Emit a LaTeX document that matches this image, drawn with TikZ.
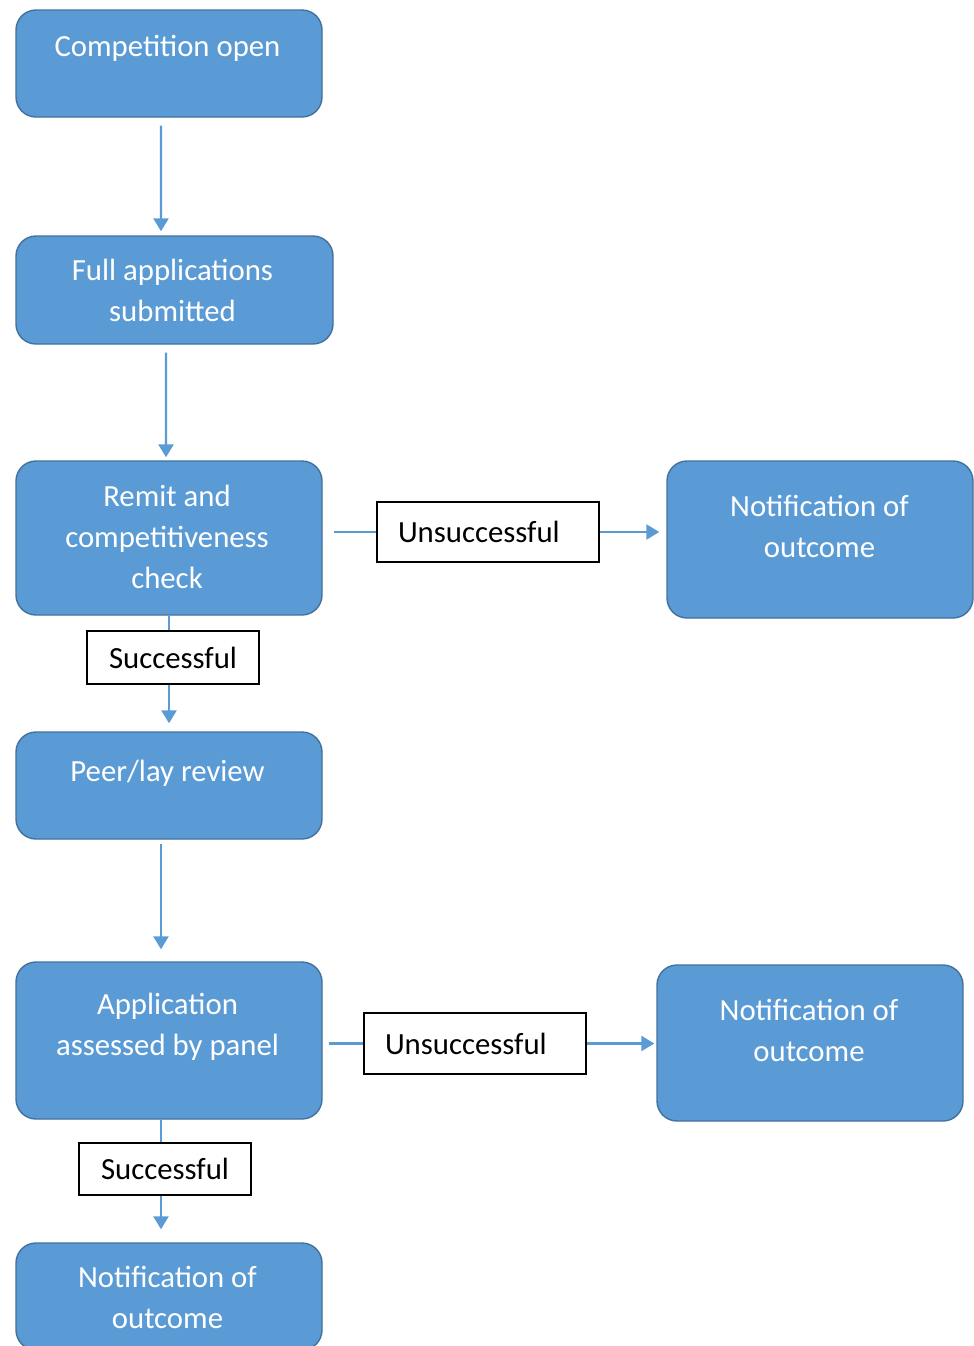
\documentclass[tikz,border=0pt]{standalone}
\usepackage{fontspec}
\setmainfont{Carlito}
\usetikzlibrary{arrows.meta}
\definecolor{stagefill}{HTML}{5B9BD5}
\definecolor{stageline}{HTML}{41719C}

\begin{document}
\begin{tikzpicture}[
    every node/.style={font=\fontsize{17.5}{23.3}\selectfont},
    stage/.style={draw=stageline, fill=stagefill, rounded corners=0.4cm, line width=0.8pt, minimum width=6.12cm},
    stagetext/.style={text=white, align=center, inner sep=0pt},
    note/.style={draw=black, line width=1.1pt, fill=white, minimum width=4.44cm},
    failnote/.style={note, inner xsep=0.42cm, text width=3.6cm, align=left},
    flow/.style={draw=stagefill, line width=1.4pt, -{Triangle[width=0.3cm,length=0.26cm]}},
    link/.style={draw=stagefill, line width=1.4pt}
]
    \clip (0,0) rectangle (19.48,-26.92);

    % main column
    \node[stage, minimum height=2.14cm] (open) at (3.38,-1.27) {};
    \node[stage, minimum height=2.16cm, minimum width=6.34cm] (full) at (3.49,-5.80) {};
    \node[stage, minimum height=3.08cm] (check) at (3.38,-10.76) {};
    \node[stage, minimum height=2.14cm] (review) at (3.38,-15.71) {};
    \node[stage, minimum height=3.14cm] (panel) at (3.38,-20.81) {};
    \node[stage, minimum height=2.14cm] (notice) at (3.38,-25.93) {};

    % outcome boxes on the right
    \node[stage, minimum height=3.14cm] (notify1) at (16.40,-10.79) {};
    \node[stage, minimum height=3.12cm] (notify2) at (16.20,-20.86) {};

    \node[stagetext] (opent) at (3.35,-0.96) {Competition open};
    \node[stagetext] (fullt) at (3.45,-5.81) {Full applications\\submitted};
    \node[stagetext] (checkt) at (3.34,-10.74) {Remit and\\competitiveness\\check};
    \node[stagetext] (reviewt) at (3.35,-15.46) {Peer/lay review};
    \node[stagetext] (panelt) at (3.35,-20.54) {Application\\assessed by panel};
    \node[stagetext] (noticet) at (3.35,-25.94) {Notification of\\outcome};
    \node[stagetext] (notify1t) at (16.39,-10.52) {Notification of\\outcome};
    \node[stagetext] (notify2t) at (16.18,-20.60) {Notification of\\outcome};

    % decision labels
    \node[failnote, minimum height=1.20cm] (fail1) at (9.76,-10.64) {Unsuccessful};
    \node[failnote, minimum height=1.22cm] (fail2) at (9.50,-20.87) {Unsuccessful};
    \node[note, minimum height=1.06cm, minimum width=3.44cm] (pass1) at (3.46,-13.15) {Successful};
    \node[note, minimum height=1.04cm, minimum width=3.44cm] (pass2) at (3.30,-23.38) {Successful};

    \draw[flow] ([shift={(-0.16,-0.16)}]open.south) -- ([shift={(-0.27,0.08)}]full.north);
    \draw[flow] ([shift={(-0.17,-0.16)}]full.south) -- ([shift={(-0.06,0.06)}]check.north);

    \draw[link] (check.south) -- (check.south |- pass1.north);
    \draw[flow] (check.south |- pass1.south) -- ([yshift=0.16cm]review.north);
    \draw[link, shorten <=0.22cm] (fail1.west -| check.east) -- (fail1.west);
    \draw[flow, shorten >=0.14cm] (fail1.east) -- (fail1.east -| notify1.west);

    \draw[flow] ([shift={(-0.16,-0.08)}]review.south) -- ([shift={(-0.16,0.24)}]panel.north);

    \draw[link] ([xshift=-0.16cm]panel.south) -- ([xshift=-0.16cm]panel.south |- pass2.north);
    \draw[flow] ([xshift=-0.16cm]panel.south |- pass2.south) -- ([shift={(-0.16,0.26)}]notice.north);
    \draw[link, shorten <=0.12cm] (fail2.west -| panel.east) -- (fail2.west);
    \draw[flow, shorten >=0.04cm] (fail2.east) -- (fail2.east -| notify2.west);
\end{tikzpicture}
\end{document}
